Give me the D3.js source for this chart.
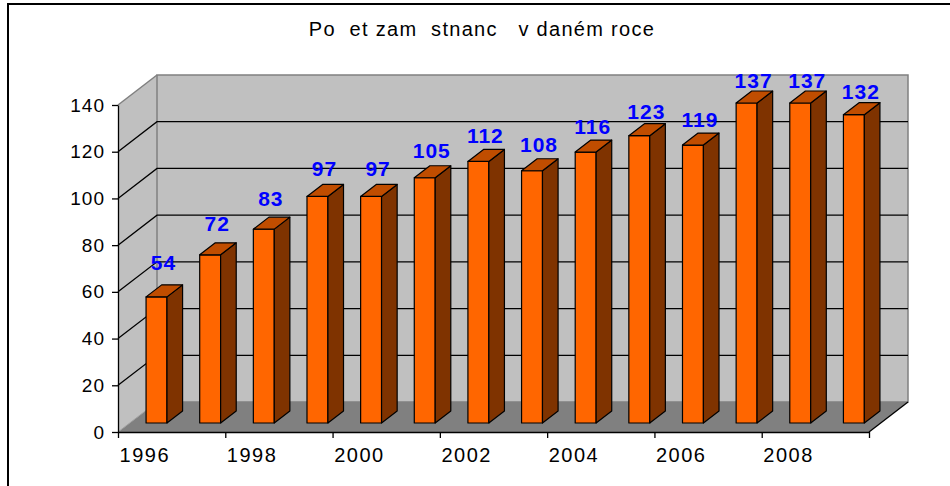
<!DOCTYPE html>
<html>
<head>
<meta charset="utf-8">
<script src="https://cdn.jsdelivr.net/npm/d3@7"></script>
<style>
  body { margin: 0; background: #fff; }
  svg text { font-family: "Liberation Sans", Arial, sans-serif; }
</style>
</head>
<body>
<svg id="chart" width="950" height="486"></svg>
<script>
// chart data
const years = ["1996", "1997", "1998", "1999", "2000", "2001", "2002",
  "2003", "2004", "2005", "2006", "2007", "2008", "2009"];
const employees = [54, 72, 83, 97, 97, 105, 112, 108, 116, 123, 119, 137, 137, 132];
const yTicks = [0, 20, 40, 60, 80, 100, 120, 140];
const xLabels = ["1996", "1998", "2000", "2002", "2004", "2006", "2008"];
const title = "Po  et zam  stnanc   v daném roce";

const svg = d3.select("#chart");

// depth of the 3d box (screen offset from front plane to back wall)
const DX = 39, DY = 30;
const Z0 = 0.3, Z1 = 0.7; // bar front / back depth

const x = d3.scaleBand().domain(years).range([118, 869])
  .paddingInner(0.61).paddingOuter(0.305);
const xCat = d3.scaleBand().domain(years).range([118, 869]);
const xIdx = d3.scaleLinear().domain([0, years.length]).range([118, 869]);
const y = d3.scaleLinear().domain([0, 140]).range([432, 105]);
// data labels sit on their own scale (Excel pushes them around a bit)
const yLabel = d3.scaleLinear().domain([54, 137]).range([270, 88]);

function P(sx, v, z) {
  return [sx + z * DX, y(v) - z * DY];
}
function poly(pts) {
  return pts.map(p => p.join(",")).join(" ");
}

// outer frame
svg.append("path")
  .attr("d", "M8,486 L8,4 L950,4")
  .attr("fill", "none").attr("stroke", "#000").attr("stroke-width", 2);

// title
svg.append("text")
  .attr("x", 482).attr("y", 36)
  .attr("text-anchor", "middle")
  .attr("font-size", "20px")
  .attr("letter-spacing", "1.3px")
  .style("white-space", "pre")
  .text(title);

const x0 = xIdx(0), x1 = xIdx(years.length);

// side wall
svg.append("polygon")
  .attr("points", poly([P(x0, 0, 0), P(x0, 140, 0), P(x0, 140, 1), P(x0, 0, 1)]))
  .attr("fill", "#c0c0c0");
// back wall
svg.append("polygon")
  .attr("points", poly([P(x0, 0, 1), P(x0, 140, 1), P(x1, 140, 1), P(x1, 0, 1)]))
  .attr("fill", "#c0c0c0").attr("stroke", "#808080").attr("stroke-width", 1.5);
svg.append("line")
  .attr("x1", P(x0, 140, 0)[0]).attr("y1", P(x0, 140, 0)[1])
  .attr("x2", P(x0, 140, 1)[0]).attr("y2", P(x0, 140, 1)[1])
  .attr("stroke", "#808080").attr("stroke-width", 1.5);

// gridlines
const grid = yTicks.filter(v => v > 0 && v < 140);
svg.append("g").selectAll("path").data(grid).enter().append("path")
  .attr("d", v => "M" + P(x0, v, 0) + " L" + P(x0, v, 1) + " L" + P(x1, v, 1))
  .attr("fill", "none").attr("stroke", "#000").attr("stroke-width", 1.3);

// floor
svg.append("polygon")
  .attr("points", poly([P(x0, 0, 0), P(x1, 0, 0), P(x1, 0, 1), P(x0, 0, 1)]))
  .attr("fill", "#808080");
svg.append("path")
  .attr("d", "M" + P(x1, 0, 0) + " L" + P(x1, 0, 1))
  .attr("stroke", "#000").attr("stroke-width", 1.3);
svg.append("path")
  .attr("d", "M" + P(x0, 0, 0) + " L" + P(x0, 0, 1))
  .attr("stroke", "#a0a0a0").attr("stroke-width", 1);

// bars
const bars = svg.append("g").selectAll("g").data(employees).enter().append("g")
  .attr("stroke", "#000").attr("stroke-width", 1.2).attr("stroke-linejoin", "round");
const bl = (d, i) => x(years[i]);
const br = (d, i) => x(years[i]) + x.bandwidth();
bars.append("polygon")
  .attr("fill", "#ff6600")
  .attr("points", (d, i) => poly([P(bl(d, i), 0, Z0), P(br(d, i), 0, Z0),
    P(br(d, i), d, Z0), P(bl(d, i), d, Z0)]));
bars.append("polygon")
  .attr("fill", "#7f3300")
  .attr("points", (d, i) => poly([P(br(d, i), 0, Z0), P(br(d, i), 0, Z1),
    P(br(d, i), d, Z1), P(br(d, i), d, Z0)]));
bars.append("polygon")
  .attr("fill", "#c04d00")
  .attr("points", (d, i) => poly([P(bl(d, i), d, Z0), P(br(d, i), d, Z0),
    P(br(d, i), d, Z1), P(bl(d, i), d, Z1)]));

// value labels
svg.append("g").selectAll("text").data(employees).enter().append("text")
  .attr("x", (d, i) => x(years[i]) + x.bandwidth() / 2 + Z0 * DX + 7)
  .attr("y", d => yLabel(d))
  .attr("text-anchor", "middle")
  .attr("font-size", "21px").attr("font-weight", "bold")
  .attr("letter-spacing", "1px")
  .attr("fill", "#0000ff")
  .text(d => d);

// y axis
const yAxis = svg.append("g")
  .attr("transform", "translate(" + x0 + ",0)")
  .call(d3.axisLeft(y).tickValues(yTicks).tickSize(6).tickSizeOuter(0).tickPadding(7));
yAxis.selectAll("text").attr("font-size", "19px").attr("letter-spacing", "1px")
  .attr("fill", "#000").attr("font-family", null);
yAxis.selectAll("line, path").attr("stroke", "#000").attr("stroke-width", 1.3);

// x axis: tick marks on category boundaries, labels under every 2nd year
const xAxis = svg.append("g")
  .attr("transform", "translate(0," + y(0) + ")")
  .call(d3.axisBottom(xIdx).tickValues(d3.range(0, years.length + 1, 2))
    .tickSize(6).tickSizeOuter(0).tickFormat(""));
xAxis.selectAll("line, path").attr("stroke", "#000").attr("stroke-width", 1.3);

const xLab = svg.append("g")
  .attr("transform", "translate(0," + y(0) + ")")
  .call(d3.axisBottom(xCat).tickValues(xLabels).tickSize(0).tickPadding(16));
xLab.select(".domain").remove();
xLab.selectAll("text").attr("font-size", "20px").attr("letter-spacing", "1.5px")
  .attr("fill", "#000").attr("font-family", null);
</script>
</body>
</html>
